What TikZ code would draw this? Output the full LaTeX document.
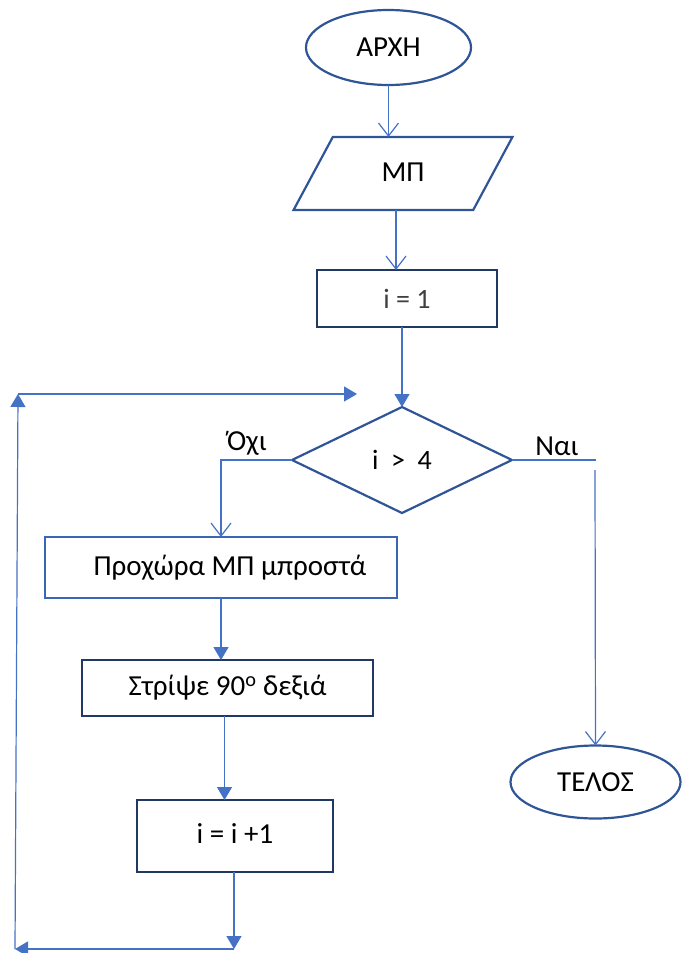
\documentclass[tikz,border=0pt]{standalone}
\usepackage{fontspec}
\setmainfont{Carlito}
\usetikzlibrary{shapes.geometric,arrows.meta,calc}
\definecolor{conn}{HTML}{4472C4}
\definecolor{shp}{HTML}{2F5597}
\definecolor{navy}{HTML}{203864}
\definecolor{midblue}{HTML}{3A66B5}
\definecolor{graytxt}{HTML}{404040}
\tikzset{
  conline/.style={draw=conn, line width=1.2pt},
  openarr/.style={conline, -{Straight Barb[length=13pt,width=20pt,line width=1.2pt]}},
  fillarr/.style={conline, -{Triangle[length=13pt,width=15pt]}},
  term/.style={ellipse, draw=shp, line width=2.2pt, inner sep=0pt, outer sep=0pt, font=\fontsize{29}{34}\selectfont},
  procbox/.style={rectangle, draw=navy, line width=2.2pt, inner sep=0pt, outer sep=0pt, font=\fontsize{29}{34}\selectfont},
  lbl/.style={font=\fontsize{29}{34}\selectfont, inner sep=0pt}
}
\begin{document}
\begin{tikzpicture}[x=1pt,y=-1pt]
\useasboundingbox (0,0) rectangle (683,953);
\node[term, minimum width=165pt, minimum height=75pt] (start) at (388.5,47.5) {ΑΡΧΗ};
\node[trapezium, trapezium left angle=61, trapezium right angle=119, trapezium stretches=true,
      draw=shp, line width=2.2pt, inner sep=0pt, outer sep=0pt, minimum width=220pt, minimum height=73pt,
      font=\fontsize{29}{34}\selectfont] (io) at (403,173.5) {\raisebox{3pt}{ΜΠ}};
\node[procbox, minimum width=180pt, minimum height=57pt, text=graytxt, font=\fontsize{28}{32}\selectfont] (init) at (407,298.5) {\raisebox{-3pt}{i = 1}};
\node[diamond, draw=shp, line width=2.2pt, inner sep=0pt, outer sep=0pt, minimum width=220pt, minimum height=106pt,
      font=\fontsize{28}{34}\selectfont] (dec) at (402,460) {i \ > \ 4};
\node[procbox, draw=midblue, minimum width=352pt, minimum height=61pt] (fwd) at (221,567.5) {\hspace*{18pt}Προχώρα ΜΠ μπροστά};
\node[procbox, minimum width=291pt, minimum height=56pt] (turn) at (227.5,688) {Στρίψε 90\textsuperscript{ο} δεξιά};
\node[procbox, minimum width=196pt, minimum height=72pt] (inc) at (235,836) {\raisebox{4pt}{i = i +1}};
\node[term, minimum width=170pt, minimum height=73pt] (stop) at (595.5,782) {ΤΕΛΟΣ};
\node[lbl] (no) at (247,443) {Όχι};
\node[lbl] (yes) at (557,446) {Ναι};
\coordinate (yesA) at (596,460);
\coordinate (yesB) at (595,470);
\coordinate (br) at (234,949);
\coordinate (bl) at (15,949);
\coordinate (tl) at (18,394);
\coordinate (tr) at (357,394);
% connectors
\draw[openarr] (start.south) -- (start.south |- io.north);
\draw[openarr] ([xshift=-7pt]io.south) -- ([xshift=-7pt]io.south |- init.north);
\draw[fillarr] (init.south -| dec.north) -- (dec.north);
\draw[openarr] (dec.west) -| (fwd.north);
\draw[conline] (dec.east) -- (yesA);
\draw[openarr] (yesB) -- (stop.north);
\draw[fillarr] (fwd.south) -- (fwd.south |- turn.north);
\draw[fillarr] ([xshift=-3pt]turn.south) -- ([xshift=-3pt]turn.south |- inc.north);
\draw[fillarr] (inc.south -| br) -- (br);
\draw[fillarr] (br) -- (bl);
\draw[fillarr] (bl) -- (tl);
\draw[fillarr] (tl) -- (tr);
\end{tikzpicture}
\end{document}
